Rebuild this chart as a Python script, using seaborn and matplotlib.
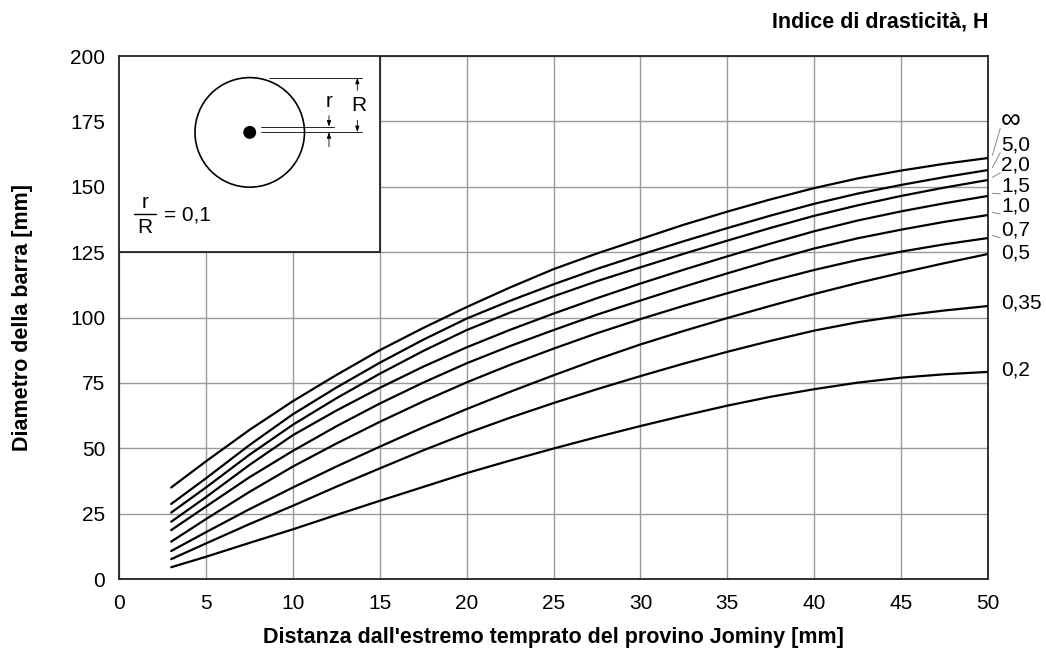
import numpy as np
import pandas as pd
import matplotlib
matplotlib.use("Agg")
import matplotlib.pyplot as plt
from matplotlib.patches import Rectangle, Ellipse
import seaborn as sns

# Jominy distance [mm] at which the bar diameters are read
distance = [3, 5, 7.5, 10, 12.5, 15, 17.5, 20, 22.5, 25, 27.5, 30,
            32.5, 35, 37.5, 40, 42.5, 45, 47.5, 50]

# Severity of quench H and the matching bar diameter [mm] curves (r/R = 0.1)
severity = ["∞", "5,0", "2,0", "1,5", "1,0", "0,7", "0,5", "0,35", "0,2"]
d_inf = [35.0, 45.0, 57.0, 68.0, 78.0, 87.5, 96.0, 104.0, 111.5, 118.5, 124.5, 130.0,
         135.5, 140.5, 145.2, 149.5, 153.2, 156.2, 158.8, 161.0]
d_50 = [28.7, 38.5, 51.2, 63.0, 73.2, 82.7, 91.5, 99.6, 106.4, 112.7, 118.6, 124.0,
        129.2, 134.2, 139.0, 143.5, 147.4, 150.7, 153.7, 156.4]
d_20 = [25.4, 35.0, 47.5, 59.0, 69.1, 78.5, 87.2, 95.2, 101.9, 108.1, 113.9, 119.2,
        124.4, 129.4, 134.3, 138.9, 142.9, 146.5, 149.7, 152.6]
d_15 = [21.9, 31.3, 43.6, 55.0, 64.4, 73.1, 81.2, 88.6, 95.3, 101.5, 107.4, 113.0,
        118.3, 123.4, 128.3, 133.0, 137.1, 140.6, 143.7, 146.5]
d_10 = [18.7, 27.7, 38.9, 49.0, 58.4, 67.1, 75.1, 82.5, 89.1, 95.2, 101.1, 106.5,
        111.8, 116.9, 121.8, 126.4, 130.3, 133.6, 136.6, 139.2]
d_07 = [14.3, 22.9, 33.3, 43.0, 51.8, 60.1, 67.9, 75.2, 81.9, 88.1, 94.0, 99.4,
        104.5, 109.3, 113.9, 118.2, 122.0, 125.2, 128.0, 130.4]
d_05 = [10.7, 17.9, 26.7, 35.0, 43.0, 50.6, 58.0, 65.0, 71.6, 77.9, 84.0, 89.7,
        94.9, 99.8, 104.5, 109.0, 113.2, 117.1, 120.8, 124.3]
d_035 = [7.6, 13.6, 21.0, 28.0, 35.3, 42.3, 49.2, 55.7, 61.7, 67.3, 72.6, 77.6,
         82.4, 86.9, 91.1, 95.0, 98.2, 100.7, 102.7, 104.4]
d_02 = [4.5, 8.5, 13.8, 19.0, 24.5, 29.9, 35.2, 40.5, 45.3, 49.9, 54.3, 58.5,
        62.5, 66.3, 69.7, 72.6, 75.1, 77.0, 78.3, 79.2]
diameters = [d_inf, d_50, d_20, d_15, d_10, d_07, d_05, d_035, d_02]

x_ticks = list(range(0, 55, 5))
y_ticks = list(range(0, 225, 25))

df = pd.concat(
    [pd.DataFrame({"dist": distance, "diam": d, "H": h}) for h, d in zip(severity, diameters)],
    ignore_index=True,
)

sns.set_style("white")
plt.rcParams["font.family"] = ["Liberation Sans", "DejaVu Sans"]
plt.rcParams["text.color"] = "black"
plt.rcParams["axes.labelcolor"] = "black"
plt.rcParams["xtick.color"] = "black"
plt.rcParams["ytick.color"] = "black"

fig = plt.figure(figsize=(10.46, 6.53), dpi=100)
ax = fig.add_axes([0.1138, 0.1133, 0.8308, 0.8009])

sns.lineplot(
    data=df, x="dist", y="diam", hue="H", hue_order=severity,
    palette=["black"] * len(severity), estimator=None, sort=False,
    linewidth=1.6, legend=False, ax=ax, zorder=4,
)

ax.set_xlim(0, 50)
ax.set_ylim(0, 200)
ax.set_xticks(x_ticks)
ax.set_yticks(y_ticks)
ax.grid(True, color="#9a9a9a", linewidth=1.0)
ax.set_axisbelow(True)
for s in ax.spines.values():
    s.set_color("#222222")
    s.set_linewidth(1.3)
ax.tick_params(axis="both", direction="out", length=5, width=1.0,
               color="#555555", labelcolor="black", labelsize=15, pad=5)
ax.tick_params(axis="x", pad=6)

ax.set_xlabel("Distanza dall'estremo temprato del provino Jominy [mm]",
              fontsize=15.5, fontweight="bold", color="black")
ax.set_ylabel("Diametro della barra [mm]", fontsize=15.5, fontweight="bold", color="black")
ax.xaxis.set_label_coords(0.5, -0.111)
ax.xaxis.label.set_va("center")
ax.yaxis.set_label_coords(-0.1116, 0.5)
ax.yaxis.label.set_va("center")
fig.text(0.9446, 0.967, "Indice di drasticità, H", ha="right", va="center",
         fontsize=15.5, fontweight="bold", color="black")

# Curve labels on the right, with thin leaders for the crowded top ones
label_y = [175.3, 166.0, 158.3, 150.3, 142.6, 133.5, 124.8, 105.4, 79.9]
for i, (h, d, ly) in enumerate(zip(severity, diameters, label_y)):
    fs = 20 if h == "∞" else 15
    ax.text(50.75, ly, h, ha="left", va="center", fontsize=fs, color="black",
            clip_on=False)
    if i < 6:
        ax.plot([50.25, 50.7], [d[-1] + 1.0, ly - 3.0], color="#888888",
                linewidth=0.7, clip_on=False)

# Inset sketch of the bar section
ax.add_patch(Rectangle((0, 125), 15, 75, facecolor="white", edgecolor="#222222",
                       linewidth=1.3, zorder=5))
ax.add_patch(Ellipse((7.52, 170.8), 6.3, 41.9, facecolor="none", edgecolor="black",
                     linewidth=1.2, zorder=6))
ax.add_patch(Ellipse((7.52, 170.8), 0.66, 4.4, facecolor="black", edgecolor="black",
                     zorder=6))
ax.plot([8.63, 13.98], [191.7, 191.7], color="black", linewidth=0.6, zorder=6)
ax.plot([8.15, 12.37], [173.0, 173.0], color="black", linewidth=0.6, zorder=6)
ax.plot([8.15, 13.98], [170.9, 170.9], color="black", linewidth=0.6, zorder=6)
arrow = dict(arrowstyle="-|>,head_length=0.35,head_width=0.12", color="black",
             linewidth=0.6, shrinkA=0, shrinkB=0)
ax.annotate("", xy=(13.71, 191.7), xytext=(13.71, 186.8), arrowprops=arrow, zorder=6)
ax.annotate("", xy=(13.71, 170.9), xytext=(13.71, 175.4), arrowprops=arrow, zorder=6)
ax.annotate("", xy=(12.08, 173.0), xytext=(12.08, 177.2), arrowprops=arrow, zorder=6)
ax.annotate("", xy=(12.08, 170.9), xytext=(12.08, 165.3), arrowprops=arrow, zorder=6)
ax.text(13.77, 181.0, "R", ha="center", va="center", fontsize=15, zorder=6)
ax.text(12.08, 182.6, "r", ha="center", va="center", fontsize=15, zorder=6)
ax.text(1.5, 144.0, "r", ha="center", va="center", fontsize=15, zorder=6)
ax.plot([0.86, 2.15], [139.6, 139.6], color="black", linewidth=1.0, zorder=6)
ax.text(1.5, 134.3, "R", ha="center", va="center", fontsize=15, zorder=6)
ax.text(2.6, 139.3, "= 0,1", ha="left", va="center", fontsize=15, zorder=6)

fig.savefig("out.png", dpi=100)
